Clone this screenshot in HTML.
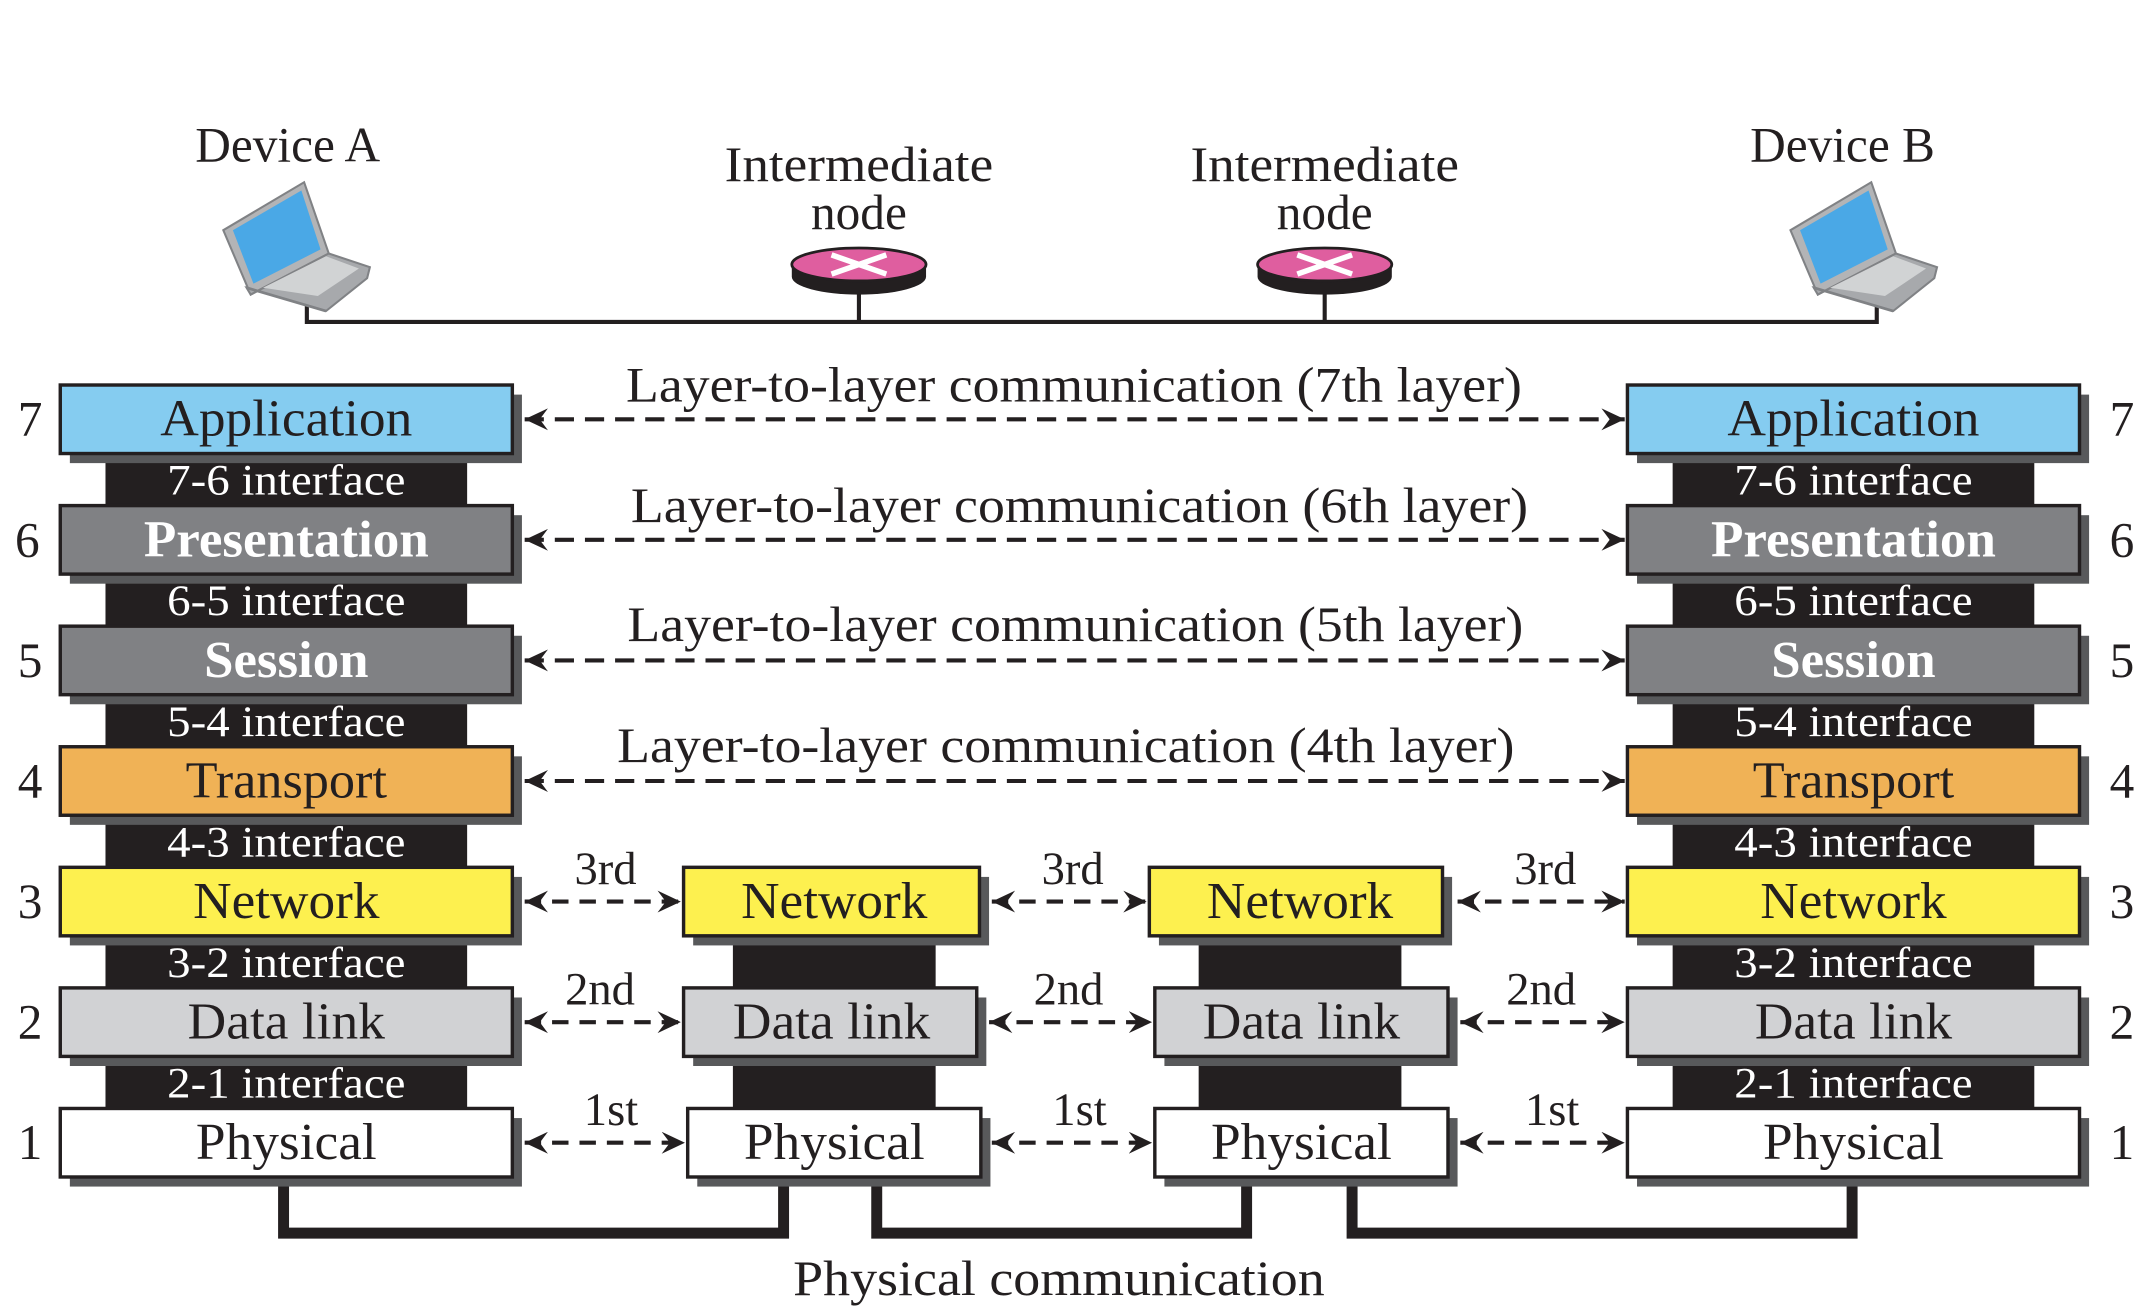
<!DOCTYPE html>
<html><head><meta charset="utf-8"><style>
html,body{margin:0;padding:0;background:#fff;}
svg{display:block;}
text{font-family:"Liberation Serif",serif;}
</style></head><body>
<svg width="2148" height="1314" viewBox="0 0 1568 959" preserveAspectRatio="none" xmlns="http://www.w3.org/2000/svg">
<defs>
<marker id="ae" markerWidth="20" markerHeight="20" refX="17" refY="8" orient="auto" markerUnits="userSpaceOnUse">
<path d="M17,8 L0,0 L6,8 L0,16 Z" fill="#231f20"/></marker>
<marker id="as" markerWidth="20" markerHeight="20" refX="0" refY="8" orient="auto" markerUnits="userSpaceOnUse">
<path d="M0,8 L17,0 L11,8 L17,16 Z" fill="#231f20"/></marker>
</defs>
<rect width="1568" height="959" fill="#fff"/>

<g font-size="36" fill="#231f20" text-anchor="middle">
<text x="210" y="118">Device A</text>
<text x="1345" y="118">Device B</text>
<text x="627" y="132" textLength="196" lengthAdjust="spacingAndGlyphs">Intermediate</text>
<text x="627" y="167">node</text>
<text x="967" y="132" textLength="196" lengthAdjust="spacingAndGlyphs">Intermediate</text>
<text x="967" y="167">node</text>
</g>

<path d="M224,222 V235 H1370 V222" fill="none" stroke="#231f20" stroke-width="3"/>
<line x1="627" y1="205" x2="627" y2="235" stroke="#231f20" stroke-width="3"/>
<line x1="967" y1="205" x2="967" y2="235" stroke="#231f20" stroke-width="3"/>

<g>
<path d="M578,193 v9 a49,13 0 0 0 98,0 v-9 z" fill="#231f20"/>
<ellipse cx="627" cy="193" rx="49" ry="12" fill="#df5e9f" stroke="#231f20" stroke-width="2"/>
<path d="M607,186 L647,200 M607,200 L647,186" stroke="#fff" stroke-width="4"/>
<path d="M918,193 v9 a49,13 0 0 0 98,0 v-9 z" fill="#231f20"/>
<ellipse cx="967" cy="193" rx="49" ry="12" fill="#df5e9f" stroke="#231f20" stroke-width="2"/>
<path d="M947,186 L987,200 M947,200 L987,186" stroke="#fff" stroke-width="4"/>
</g>

<g id="lapA">
<path d="M163,168 L222,133 L240,185 L183,215 Z" fill="#b3b4b6" stroke="#808285" stroke-width="1.5"/>
<path d="M170,168 L220,139 L234,182 L185,207 Z" fill="#4aa8e6"/>
<path d="M183,215 L240,185 L270,195 L268,203 L238,227 L180,210 Z" fill="#a7a9ac" stroke="#808285" stroke-width="1.5"/>
<path d="M192,210 L238,187 L262,196 L232,216 Z" fill="#d1d3d4"/>
<path d="M180,210 L238,227" stroke="#808285" stroke-width="2"/>
</g>
<use href="#lapA" transform="translate(1144,0)"/>

<g fill="none" stroke="#231f20" stroke-width="8">
<path d="M207,863 V900 H572 V863"/>
<path d="M640,863 V900 H910 V863"/>
<path d="M987,863 V900 H1352 V863"/>
</g>
<text x="773" y="945" font-size="36" fill="#231f20" text-anchor="middle" textLength="388" lengthAdjust="spacingAndGlyphs">Physical communication</text>

<rect x="77" y="325" width="264" height="490" fill="#231f20"/>
<rect x="1221" y="325" width="264" height="490" fill="#231f20"/>
<rect x="535" y="677" width="148" height="138" fill="#231f20"/>
<rect x="875" y="677" width="148" height="138" fill="#231f20"/>

<g font-size="32" fill="#fff" text-anchor="middle">
<text x="209" y="361" textLength="174" lengthAdjust="spacingAndGlyphs">7-6 interface</text>
<text x="209" y="449" textLength="174" lengthAdjust="spacingAndGlyphs">6-5 interface</text>
<text x="209" y="537" textLength="174" lengthAdjust="spacingAndGlyphs">5-4 interface</text>
<text x="209" y="625" textLength="174" lengthAdjust="spacingAndGlyphs">4-3 interface</text>
<text x="209" y="713" textLength="174" lengthAdjust="spacingAndGlyphs">3-2 interface</text>
<text x="209" y="801" textLength="174" lengthAdjust="spacingAndGlyphs">2-1 interface</text>
<text x="1353" y="361" textLength="174" lengthAdjust="spacingAndGlyphs">7-6 interface</text>
<text x="1353" y="449" textLength="174" lengthAdjust="spacingAndGlyphs">6-5 interface</text>
<text x="1353" y="537" textLength="174" lengthAdjust="spacingAndGlyphs">5-4 interface</text>
<text x="1353" y="625" textLength="174" lengthAdjust="spacingAndGlyphs">4-3 interface</text>
<text x="1353" y="713" textLength="174" lengthAdjust="spacingAndGlyphs">3-2 interface</text>
<text x="1353" y="801" textLength="174" lengthAdjust="spacingAndGlyphs">2-1 interface</text>
</g>

<g fill="#58595b">
<rect x="51" y="288" width="330" height="50"/><rect x="51" y="376" width="330" height="50"/>
<rect x="51" y="464" width="330" height="50"/><rect x="51" y="552" width="330" height="50"/>
<rect x="51" y="640" width="330" height="50"/><rect x="51" y="728" width="330" height="50"/>
<rect x="51" y="816" width="330" height="50"/>
<rect x="1195" y="288" width="330" height="50"/><rect x="1195" y="376" width="330" height="50"/>
<rect x="1195" y="464" width="330" height="50"/><rect x="1195" y="552" width="330" height="50"/>
<rect x="1195" y="640" width="330" height="50"/><rect x="1195" y="728" width="330" height="50"/>
<rect x="1195" y="816" width="330" height="50"/>
<rect x="506" y="640" width="216" height="50"/><rect x="506" y="728" width="214" height="50"/><rect x="509" y="816" width="214" height="50"/>
<rect x="846" y="640" width="214" height="50"/><rect x="850" y="728" width="214" height="50"/><rect x="850" y="816" width="214" height="50"/>
</g>

<g stroke="#231f20" stroke-width="2.5">
<rect x="44" y="281" width="330" height="50" fill="#85ccf0"/>
<rect x="44" y="369" width="330" height="50" fill="#808184"/>
<rect x="44" y="457" width="330" height="50" fill="#808184"/>
<rect x="44" y="545" width="330" height="50" fill="#f0b256"/>
<rect x="44" y="633" width="330" height="50" fill="#fdf04f"/>
<rect x="44" y="721" width="330" height="50" fill="#d1d2d4"/>
<rect x="44" y="809" width="330" height="50" fill="#fff"/>
<rect x="1188" y="281" width="330" height="50" fill="#85ccf0"/>
<rect x="1188" y="369" width="330" height="50" fill="#808184"/>
<rect x="1188" y="457" width="330" height="50" fill="#808184"/>
<rect x="1188" y="545" width="330" height="50" fill="#f0b256"/>
<rect x="1188" y="633" width="330" height="50" fill="#fdf04f"/>
<rect x="1188" y="721" width="330" height="50" fill="#d1d2d4"/>
<rect x="1188" y="809" width="330" height="50" fill="#fff"/>
<rect x="499" y="633" width="216" height="50" fill="#fdf04f"/>
<rect x="499" y="721" width="214" height="50" fill="#d1d2d4"/>
<rect x="502" y="809" width="214" height="50" fill="#fff"/>
<rect x="839" y="633" width="214" height="50" fill="#fdf04f"/>
<rect x="843" y="721" width="214" height="50" fill="#d1d2d4"/>
<rect x="843" y="809" width="214" height="50" fill="#fff"/>
</g>

<g font-size="38" fill="#231f20" text-anchor="middle">
<text x="209" y="318" textLength="184" lengthAdjust="spacingAndGlyphs">Application</text>
<text x="209" y="406" fill="#fff" font-weight="bold" textLength="208" lengthAdjust="spacingAndGlyphs">Presentation</text>
<text x="209" y="494" fill="#fff" font-weight="bold" textLength="120" lengthAdjust="spacingAndGlyphs">Session</text>
<text x="209" y="582" textLength="147" lengthAdjust="spacingAndGlyphs">Transport</text>
<text x="209" y="670" textLength="136" lengthAdjust="spacingAndGlyphs">Network</text>
<text x="209" y="758" textLength="144" lengthAdjust="spacingAndGlyphs">Data link</text>
<text x="209" y="846" textLength="132" lengthAdjust="spacingAndGlyphs">Physical</text>
<text x="1353" y="318" textLength="184" lengthAdjust="spacingAndGlyphs">Application</text>
<text x="1353" y="406" fill="#fff" font-weight="bold" textLength="208" lengthAdjust="spacingAndGlyphs">Presentation</text>
<text x="1353" y="494" fill="#fff" font-weight="bold" textLength="120" lengthAdjust="spacingAndGlyphs">Session</text>
<text x="1353" y="582" textLength="147" lengthAdjust="spacingAndGlyphs">Transport</text>
<text x="1353" y="670" textLength="136" lengthAdjust="spacingAndGlyphs">Network</text>
<text x="1353" y="758" textLength="144" lengthAdjust="spacingAndGlyphs">Data link</text>
<text x="1353" y="846" textLength="132" lengthAdjust="spacingAndGlyphs">Physical</text>
<text x="609" y="670" textLength="136" lengthAdjust="spacingAndGlyphs">Network</text>
<text x="607" y="758" textLength="144" lengthAdjust="spacingAndGlyphs">Data link</text>
<text x="609" y="846" textLength="132" lengthAdjust="spacingAndGlyphs">Physical</text>
<text x="949" y="670" textLength="136" lengthAdjust="spacingAndGlyphs">Network</text>
<text x="950" y="758" textLength="144" lengthAdjust="spacingAndGlyphs">Data link</text>
<text x="950" y="846" textLength="132" lengthAdjust="spacingAndGlyphs">Physical</text>
</g>

<g font-size="36" fill="#231f20" text-anchor="middle">
<text x="22" y="318">7</text><text x="20" y="406">6</text><text x="22" y="494">5</text><text x="22" y="582">4</text>
<text x="22" y="670">3</text><text x="22" y="758">2</text><text x="22" y="846">1</text>
<text x="1549" y="318">7</text><text x="1549" y="406">6</text><text x="1549" y="494">5</text><text x="1549" y="582">4</text>
<text x="1549" y="670">3</text><text x="1549" y="758">2</text><text x="1549" y="846">1</text>
</g>

<g stroke="#231f20" stroke-width="3" stroke-dasharray="14,8" marker-start="url(#as)" marker-end="url(#ae)">
<line x1="383" y1="306" x2="1186" y2="306"/>
<line x1="383" y1="394" x2="1186" y2="394"/>
<line x1="383" y1="482" x2="1186" y2="482"/>
<line x1="383" y1="570" x2="1186" y2="570"/>
</g>
<g font-size="36" fill="#231f20" text-anchor="middle">
<text x="784" y="293" textLength="654" lengthAdjust="spacingAndGlyphs">Layer-to-layer communication (7th layer)</text>
<text x="788" y="381" textLength="655" lengthAdjust="spacingAndGlyphs">Layer-to-layer communication (6th layer)</text>
<text x="785" y="468" textLength="654" lengthAdjust="spacingAndGlyphs">Layer-to-layer communication (5th layer)</text>
<text x="778" y="556" textLength="655" lengthAdjust="spacingAndGlyphs">Layer-to-layer communication (4th layer)</text>
</g>

<g stroke="#231f20" stroke-width="3" stroke-dasharray="12,8" marker-start="url(#as)" marker-end="url(#ae)">
<line x1="383" y1="658" x2="497" y2="658"/><line x1="724" y1="658" x2="837" y2="658"/><line x1="1064" y1="658" x2="1186" y2="658"/>
<line x1="383" y1="746" x2="497" y2="746"/><line x1="722" y1="746" x2="841" y2="746"/><line x1="1066" y1="746" x2="1186" y2="746"/>
<line x1="383" y1="834" x2="500" y2="834"/><line x1="724" y1="834" x2="841" y2="834"/><line x1="1066" y1="834" x2="1186" y2="834"/>
</g>
<g font-size="34" fill="#231f20" text-anchor="middle">
<text x="442" y="645">3rd</text><text x="783" y="645">3rd</text><text x="1128" y="645">3rd</text>
<text x="438" y="733">2nd</text><text x="780" y="733">2nd</text><text x="1125" y="733">2nd</text>
<text x="446" y="821">1st</text><text x="788" y="821">1st</text><text x="1133" y="821">1st</text>
</g>
</svg>
</body></html>
